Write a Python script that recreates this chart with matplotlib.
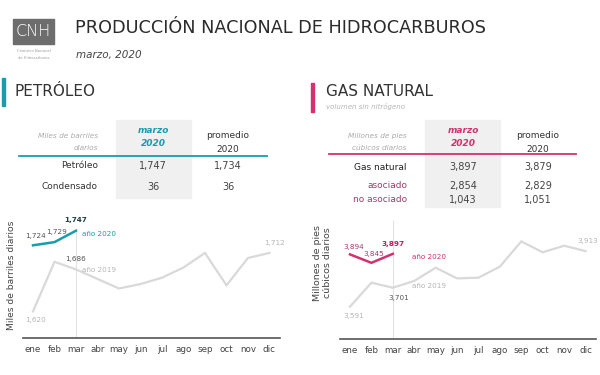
import matplotlib.pyplot as plt
from matplotlib.patches import Rectangle

meses = ['ene', 'feb', 'mar', 'abr', 'may', 'jun', 'jul', 'ago', 'sep', 'oct', 'nov', 'dic']

petroleo_2019 = [1620, 1698, 1686, 1671, 1656, 1663, 1673, 1689, 1712, 1661, 1704, 1712]
petroleo_2020 = [1724, 1729, 1747]
gas_2019 = [3591, 3730, 3701, 3740, 3817, 3755, 3759, 3823, 3969, 3906, 3944, 3913]
gas_2020 = [3894, 3845, 3897]

tabla_pet_filas = ['Petróleo', 'Condensado']
tabla_pet_marzo = ['1,747', '36']
tabla_pet_prom = ['1,734', '36']
tabla_gas_filas = ['Gas natural', 'asociado', 'no asociado']
tabla_gas_marzo = ['3,897', '2,854', '1,043']
tabla_gas_prom = ['3,879', '2,829', '1,051']

TEAL = '#1a9cad'
PINK = '#d3316f'
MAUVE = '#9a3f6c'
GRIS = '#d9d9d9'
GRIS_TXT = '#b5b5b5'
OSCURO = '#333333'

plt.rcParams['font.family'] = ['DejaVu Sans']

W, H = 600, 375
fig = plt.figure(figsize=(6, 3.75), dpi=100)


def fx(px):
    return px / W


def fy(py):
    return 1 - py / H


def txt(x, y, s, **kw):
    kw.setdefault('va', 'center')
    kw.setdefault('color', OSCURO)
    fig.text(fx(x), fy(y), s, **kw)


def caja(x0, y0, x1, y1, color):
    fig.patches.append(Rectangle((fx(x0), fy(y1)), fx(x1 - x0), (y1 - y0) / H,
                                 transform=fig.transFigure, color=color, zorder=0))


# encabezado
caja(13, 19, 54, 44, '#6d6d6d')
txt(33.5, 31.5, 'CNH', ha='center', color='white', fontsize=11.5, fontweight='light')
txt(33.5, 51, 'Comisión Nacional', ha='center', color='#999999', fontsize=2.6)
txt(33.5, 58, 'de Hidrocarburos', ha='center', color='#999999', fontsize=2.6)
txt(75, 28, 'PRODUCCIÓN NACIONAL DE HIDROCARBUROS', fontsize=12.7, color='#2b2b2b')
txt(76, 55, 'marzo, 2020', fontsize=7.5, style='italic', color='#444444')

# secciones
caja(2, 78, 5, 106, TEAL)
txt(14, 91, 'PETRÓLEO', fontsize=11, color='#333333')
caja(311, 83, 314, 112, PINK)
txt(326, 91, 'GAS NATURAL', fontsize=11, color='#333333')
txt(326, 106, 'volumen sin nitrógeno', fontsize=5, style='italic', color=GRIS_TXT)


def tabla(xlab, xm, xp, y_linea, x_linea, x_caja, y_caja, color, unidades, filas, marzo, prom, ys, colores):
    caja(x_caja[0], y_caja[0], x_caja[1], y_caja[1], '#f0f0f0')
    fig.add_artist(plt.Line2D([fx(x_linea[0]), fx(x_linea[1])], [fy(y_linea)] * 2,
                              transform=fig.transFigure, color=color, lw=1.3))
    txt(xlab, 136, unidades[0], ha='right', fontsize=5.3, style='italic', color='#aaaaaa')
    txt(xlab, 148, unidades[1], ha='right', fontsize=5.3, style='italic', color='#aaaaaa')
    txt(xm, 131, 'marzo', ha='center', fontsize=6.5, style='italic', fontweight='bold', color=color)
    txt(xm, 144, '2020', ha='center', fontsize=6.5, style='italic', fontweight='bold', color=color)
    txt(xp, 135, 'promedio', ha='center', fontsize=6.5, color=OSCURO)
    txt(xp, 149, '2020', ha='center', fontsize=6.5, color=OSCURO)
    for f, m, p, y, c in zip(filas, marzo, prom, ys, colores):
        txt(xlab, y, f, ha='right', fontsize=6.5, color=c)
        txt(xm, y, m, ha='center', fontsize=7, color='#444444')
        txt(xp, y, p, ha='center', fontsize=7, color='#444444')


tabla(98, 153, 228, 156, (19, 267), (116, 191), (120, 198), TEAL,
      ('Miles de barriles', 'diarios'), tabla_pet_filas, tabla_pet_marzo, tabla_pet_prom,
      [166, 187], [OSCURO, OSCURO])
tabla(407, 463, 538, 154, (329, 576), (425, 500), (120, 207), PINK,
      ('Millones de pies', 'cúbicos diarios'), tabla_gas_filas, tabla_gas_marzo, tabla_gas_prom,
      [167, 186, 200], ['#222222', MAUVE, MAUVE])


def grafica(x0, x1, y_top, y_base, ylim, v2019, v2020, color, vtop):
    ax = fig.add_axes([fx(x0), fy(y_base), fx(x1 - x0), (y_base - y_top) / H])
    x = list(range(len(meses)))
    ax.plot(x, v2019, color=GRIS, lw=1.6, solid_joinstyle='miter')
    ax.plot(x[:len(v2020)], v2020, color=color, lw=1.8)
    ax.vlines(2, ylim[0], vtop, color='#e3e3e3', lw=0.8, zorder=0)
    ax.set_xlim(-0.466, 11.49)
    ax.set_ylim(*ylim)
    for s in ['top', 'right', 'left']:
        ax.spines[s].set_visible(False)
    ax.spines['bottom'].set_color('#555555')
    ax.spines['bottom'].set_linewidth(1.2)
    ax.set_yticks([])
    ax.set_xticks(x)
    ax.set_xticklabels(meses, fontsize=6.3, color='#444444')
    ax.tick_params(axis='x', length=0, pad=5)
    ax.patch.set_alpha(0)
    return ax


FS = 5.2

ax1 = grafica(23, 280, 218, 338, (1578, 1767), petroleo_2019, petroleo_2020, TEAL, petroleo_2020[2])
ax1.annotate('1,724', (0, petroleo_2020[0]), xytext=(-6, 5), textcoords='offset points',
             fontsize=FS, color='#555555', ha='left')
ax1.annotate('1,729', (1, petroleo_2020[1]), xytext=(-6, 6), textcoords='offset points',
             fontsize=FS, color='#555555', ha='left')
ax1.annotate('1,747', (2, petroleo_2020[2]), xytext=(0, 6), textcoords='offset points',
             fontsize=FS, color='#1e3e44', ha='center', fontweight='bold')
ax1.annotate('año 2020', (2, petroleo_2020[2]), xytext=(4, -4), textcoords='offset points',
             fontsize=FS, color=TEAL, ha='left')
ax1.annotate('1,686', (2, petroleo_2019[2]), xytext=(0, 6), textcoords='offset points',
             fontsize=FS, color='#555555', ha='center')
ax1.annotate('año 2019', (2, petroleo_2019[2]), xytext=(4, -2), textcoords='offset points',
             fontsize=FS, color=GRIS_TXT, ha='left')
ax1.annotate('1,620', (0, petroleo_2019[0]), xytext=(-6, -8), textcoords='offset points',
             fontsize=FS, color=GRIS_TXT, ha='left')
ax1.annotate('1,712', (11, petroleo_2019[11]), xytext=(-4, 6), textcoords='offset points',
             fontsize=FS, color=GRIS_TXT, ha='left')
txt(12, 275, 'Miles de barriles diarios', ha='center', rotation=90, fontsize=6.6, color='#444444')

ax2 = grafica(340, 596, 220, 339, (3404, 4093), gas_2019, gas_2020, PINK, 4093)
ax2.annotate('3,894', (0, gas_2020[0]), xytext=(-5, 4), textcoords='offset points',
             fontsize=FS, color=MAUVE, ha='left')
ax2.annotate('3,845', (1, gas_2020[1]), xytext=(-6, 5), textcoords='offset points',
             fontsize=FS, color=MAUVE, ha='left')
ax2.annotate('3,897', (2, gas_2020[2]), xytext=(0, 6), textcoords='offset points',
             fontsize=FS, color='#c2185b', ha='center', fontweight='bold')
ax2.annotate('año 2020', (2, gas_2020[2]), xytext=(14, -4), textcoords='offset points',
             fontsize=FS, color=PINK, ha='left')
ax2.annotate('3,701', (2, gas_2019[2]), xytext=(4, -9), textcoords='offset points',
             fontsize=FS, color='#555555', ha='center')
ax2.annotate('año 2019', (2, gas_2019[2]), xytext=(14, 0), textcoords='offset points',
             fontsize=FS, color=GRIS_TXT, ha='left')
ax2.annotate('3,591', (0, gas_2019[0]), xytext=(-5, -8), textcoords='offset points',
             fontsize=FS, color=GRIS_TXT, ha='left')
ax2.annotate('3,913', (11, gas_2019[11]), xytext=(-6, 6), textcoords='offset points',
             fontsize=FS, color=GRIS_TXT, ha='left')
txt(318, 263, 'Millones de pies', ha='center', rotation=90, fontsize=6.8, color='#444444')
txt(328, 263, 'cúbicos diarios', ha='center', rotation=90, fontsize=6.8, color='#444444')

fig.savefig('out.png', dpi=100, facecolor='white')
